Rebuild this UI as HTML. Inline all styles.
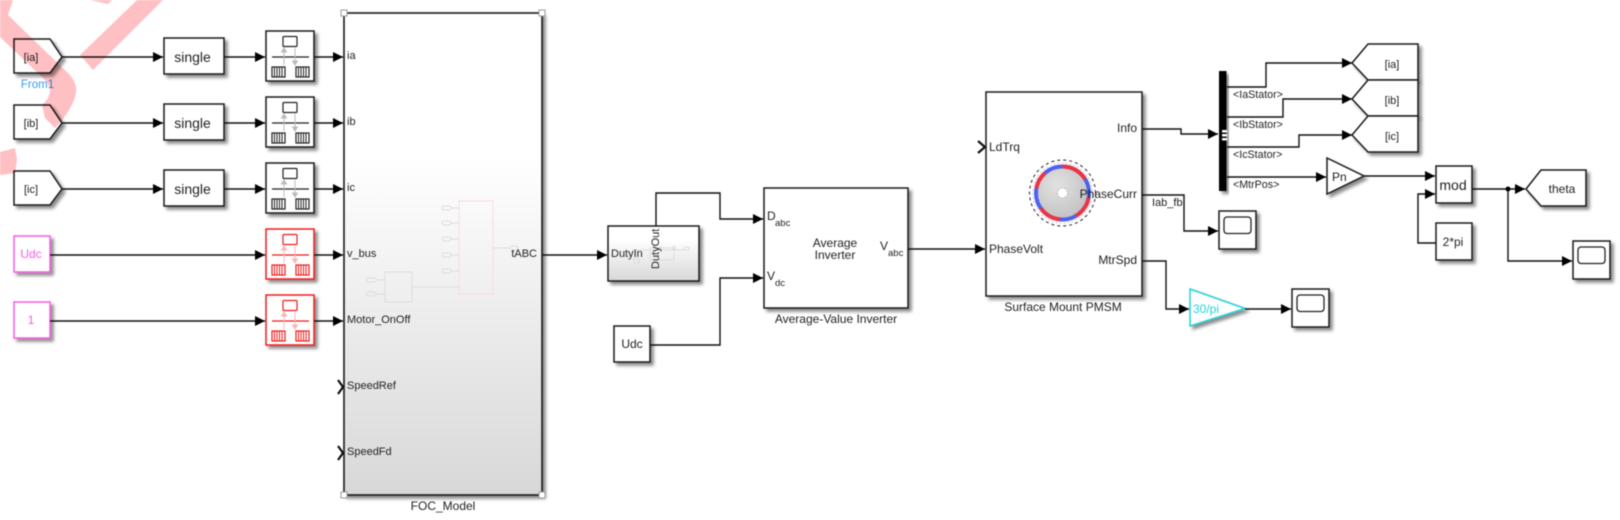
<!DOCTYPE html>
<html><head><meta charset="utf-8"><style>
html,body{margin:0;padding:0;background:#fff;width:1620px;height:520px;overflow:hidden}
svg{display:block;filter:blur(0.4px)}
text{font-family:"Liberation Sans",sans-serif;font-size:11px;fill:#222}
.n{font-size:12px}
.m{text-anchor:middle}
.e{text-anchor:end}
.b{fill:#fff;stroke:#1a1a1a;stroke-width:1.5;filter:url(#sh)}
.l{fill:none;stroke:#111;stroke-width:1.4}
.a{marker-end:url(#ah)}
.h{fill:#fff;stroke:#999;stroke-width:1}
.f{fill:none;stroke:#ddd;stroke-width:1}
</style></head><body>
<svg width="1620" height="520" viewBox="0 0 1620 520" xmlns="http://www.w3.org/2000/svg">
<defs>
<filter id="sh" x="-20%" y="-20%" width="150%" height="150%"><feDropShadow dx="3" dy="3" stdDeviation="1.6" flood-color="#000" flood-opacity=".45"/></filter>
<marker id="ah" markerUnits="userSpaceOnUse" markerWidth="10" markerHeight="11" refX="10" refY="5.5" orient="auto"><path d="M0,0.5 L10,5.5 L0,10.5Z" fill="#000"/></marker>
<linearGradient id="foc" x1="0" y1="0" x2="0" y2="1"><stop offset=".3" stop-color="#fff"/><stop offset="1" stop-color="#d8d8d8"/></linearGradient>
<linearGradient id="duty" x1="0" y1="0" x2="0" y2="1"><stop offset=".25" stop-color="#fff"/><stop offset="1" stop-color="#d8d8d8"/></linearGradient>
<radialGradient id="disc" cx=".4" cy=".35" r=".8"><stop offset="0" stop-color="#e2e2e2"/><stop offset="1" stop-color="#bdbdbd"/></radialGradient>
<g id="rt" fill="none" stroke="currentColor">
<rect x="17" y="5.5" width="14" height="10" rx="1" stroke-width="1.2"/>
<path d="M6,26H43" stroke-width="1.2"/>
<rect x="6" y="36" width="13" height="10" stroke-width="1.2"/>
<rect x="30" y="36" width="13" height="10" stroke-width="1.2"/>
<path d="M8.5,36v10M11,36v10M13.5,36v10M16,36v10M32.5,36v10M35,36v10M37.5,36v10M40,36v10" stroke-width="1"/>
</g>
<g id="scope"><rect class="b" x="0" y="0" width="37" height="38"/><rect x="5" y="6" width="27" height="16.5" rx="3" fill="#fff" stroke="#222" stroke-width="1.3"/></g>
</defs>

<!-- sources -->
<path class="b" d="M14,39H50L62,57L50,73H14Z"/>
<path class="b" d="M14,105H50L62,123L50,139H14Z"/>
<path class="b" d="M14,171H50L62,189L50,205H14Z"/>
<text x="31" y="61" class="m">[ia]</text>
<text x="31" y="127" class="m">[ib]</text>
<text x="31" y="193" class="m">[ic]</text>
<text x="37.5" y="88" class="m" style="fill:#3b9cf5;font-size:11.5px">From1</text>
<rect class="b" x="14" y="236" width="36" height="36" style="stroke:#f75ce0"/>
<text x="31" y="258" class="m n" style="fill:#f75ce0">Udc</text>
<rect class="b" x="14" y="302" width="36" height="36" style="stroke:#f75ce0"/>
<text x="31" y="324" class="m n" style="fill:#f75ce0">1</text>

<!-- single -->
<rect class="b" x="164" y="38" width="60" height="36"/>
<rect class="b" x="164" y="104" width="60" height="36"/>
<rect class="b" x="164" y="170" width="60" height="36"/>
<text x="192.5" y="62" class="m" style="font-size:14px">single</text>
<text x="192.5" y="128" class="m" style="font-size:14px">single</text>
<text x="192.5" y="194" class="m" style="font-size:14px">single</text>

<!-- rate transitions -->
<g>
<rect class="b" x="266" y="31" width="48" height="50"/>
<rect class="b" x="266" y="97" width="48" height="50"/>
<rect class="b" x="266" y="163" width="48" height="50"/>
<rect class="b" x="266" y="229" width="48" height="50" style="stroke:#f01c1c"/>
<rect class="b" x="266" y="295" width="48" height="50" style="stroke:#f01c1c"/>
<use href="#rt" x="266" y="31" color="#222"/><use href="#rt" x="266" y="97" color="#222"/><use href="#rt" x="266" y="163" color="#222"/>
<use href="#rt" x="266" y="229" color="#f01c1c"/><use href="#rt" x="266" y="295" color="#f01c1c"/>
<g fill="#bbb" stroke="#bbb" stroke-width="1">
<path d="M284,65V52M284,48l-2.5,4h5zM295,48V61M295,65l-2.5,-4h5z"/>
<path d="M284,131V118M284,114l-2.5,4h5zM295,114V127M295,131l-2.5,-4h5z"/>
<path d="M284,197V184M284,180l-2.5,4h5zM295,180V193M295,197l-2.5,-4h5z"/>
</g>
<g fill="#f9b6b6" stroke="#f9b6b6" stroke-width="1">
<path d="M284,263V250M284,246l-2.5,4h5zM295,246V259M295,263l-2.5,-4h5z"/>
<path d="M284,329V316M284,312l-2.5,4h5zM295,312V325M295,329l-2.5,-4h5z"/>
</g>
</g>

<!-- FOC -->
<rect x="344" y="13" width="198" height="482" fill="url(#foc)" stroke="#1a1a1a" stroke-width="1.6" filter="url(#sh)"/>
<g>
<rect x="459" y="201" width="34" height="93" fill="none" stroke="#f6dcdc"/>
<rect x="385" y="272" width="27" height="30" fill="none" stroke="#ddd"/>
<path class="f" d="M451,208H459M451,223H459M451,239H459M451,255H459M451,271H459M412,287H459M376,280H385M376,294H385M493,248H510"/>
<g fill="none" stroke="#ddd"><rect x="442" y="206" width="9" height="4" rx="2"/><rect x="442" y="221" width="9" height="4" rx="2"/><rect x="442" y="237" width="9" height="4" rx="2"/><rect x="442" y="253" width="9" height="4" rx="2"/><rect x="442" y="269" width="9" height="4" rx="2"/><rect x="366" y="278" width="10" height="4" rx="2"/><rect x="366" y="292" width="10" height="4" rx="2"/><rect x="510" y="246" width="8" height="4" rx="2"/></g>
</g>
<rect class="h" x="341" y="10" width="6" height="6"/><rect class="h" x="539" y="10" width="6" height="6"/><rect class="h" x="341" y="492" width="6" height="6"/><rect class="h" x="539" y="492" width="6" height="6"/>
<text x="347" y="59">ia</text><text x="347" y="125">ib</text><text x="347" y="191">ic</text>
<text x="347" y="257">v_bus</text><text x="347" y="323">Motor_OnOff</text>
<text x="347" y="389">SpeedRef</text><text x="347" y="455">SpeedFd</text>
<text x="537" y="257" class="e">tABC</text>
<text x="443" y="510" class="m n">FOC_Model</text>
<path d="M338,380L343,387L338,394M338,446L343,453L338,460" fill="none" stroke="#111" stroke-width="2.2"/>

<!-- Duty -->
<rect x="608" y="226" width="91" height="55" fill="url(#duty)" stroke="#1a1a1a" stroke-width="1.5" filter="url(#sh)"/>
<g fill="none" stroke="#ddd"><path d="M632,250H688M650,260H674V248H650Z"/><circle cx="674" cy="248" r="1.5"/><circle cx="660" cy="248" r="1.5"/><rect x="634" y="259" width="5" height="4"/><rect x="684" y="247" width="5" height="3" rx="1.5"/></g>
<text x="611" y="257">DutyIn</text>
<text transform="translate(659,269) rotate(-90)">DutyOut</text>

<!-- Inverter -->
<rect class="b" x="764" y="188" width="144" height="120"/>
<text x="767" y="220" class="n">D</text><text x="775" y="226" style="font-size:9.5px">abc</text>
<text x="767" y="280" class="n">V</text><text x="775" y="286" style="font-size:9.5px">dc</text>
<text x="835" y="247" class="m n">Average</text><text x="835" y="259" class="m n">Inverter</text>
<text x="880" y="250" class="n">V</text><text x="888" y="256" style="font-size:9.5px">abc</text>
<text x="836" y="323" class="m n">Average-Value Inverter</text>

<rect class="b" x="614" y="326" width="36" height="36"/>
<text x="632" y="348" class="m n">Udc</text>

<!-- PMSM -->
<rect class="b" x="986" y="92" width="156" height="204"/>
<circle cx="1062.5" cy="193" r="33" fill="none" stroke="#222" stroke-width="1" stroke-dasharray="3 3"/>
<circle cx="1062.5" cy="193" r="30" fill="none" stroke="#ccc" stroke-width="1" stroke-dasharray="2 2"/>
<circle cx="1062.5" cy="193" r="25" fill="url(#disc)"/>
<g fill="none" stroke-width="4">
<circle cx="1062.5" cy="193" r="26.5" stroke="#4c62f0"/>
<circle cx="1062.5" cy="193" r="26.5" stroke="#ee3344" stroke-dasharray="27 140" transform="rotate(-90 1062.5 193)"/>
<circle cx="1062.5" cy="193" r="26.5" stroke="#ee3344" stroke-dasharray="23 144" transform="rotate(10 1062.5 193)"/>
<circle cx="1062.5" cy="193" r="26.5" stroke="#ee3344" stroke-dasharray="23 144" transform="rotate(95 1062.5 193)"/>
<circle cx="1062.5" cy="193" r="26.5" stroke="#ee3344" stroke-dasharray="18 149" transform="rotate(190 1062.5 193)"/>
</g>
<circle cx="1062.5" cy="193" r="5" fill="#fff" stroke="#bbb" stroke-dasharray="2 1.5"/>
<text x="989" y="151" class="n">LdTrq</text>
<text x="989" y="253" class="n">PhaseVolt</text>
<text x="1137" y="132" class="e n">Info</text>
<text x="1137" y="198" class="e n">PhaseCurr</text>
<text x="1137" y="264" class="e n">MtrSpd</text>
<text x="1063" y="311" class="m n">Surface Mount PMSM</text>
<path d="M978,141L985,147L978,153" fill="none" stroke="#111" stroke-width="2.2"/>

<!-- Bus -->
<rect x="1219" y="71" width="7.5" height="120" fill="#000" filter="url(#sh)"/>
<rect x="1222" y="130" width="5" height="2.5" fill="#fff"/><rect x="1222" y="134" width="5" height="2.5" fill="#fff"/><rect x="1222" y="138" width="5" height="2.5" fill="#fff"/>
<text x="1233" y="98" style="font-size:10.7px">&lt;IaStator&gt;</text>
<text x="1233" y="128" style="font-size:10.7px">&lt;IbStator&gt;</text>
<text x="1233" y="158" style="font-size:10.7px">&lt;IcStator&gt;</text>
<text x="1233" y="188" style="font-size:10.7px">&lt;MtrPos&gt;</text>

<!-- Gotos -->
<path class="b" d="M1352,63L1368,44H1418V80H1368Z"/>
<path class="b" d="M1352,99L1368,80H1418V116H1368Z"/>
<path class="b" d="M1352,135L1368,116H1418V152H1368Z"/>
<text x="1392" y="68" class="m">[ia]</text><text x="1392" y="104" class="m">[ib]</text><text x="1392" y="140" class="m">[ic]</text>

<!-- Pn, mod etc -->
<path class="b" d="M1327,158L1364,176L1327,194Z"/>
<text x="1332" y="181" class="n">Pn</text>
<rect class="b" x="1436" y="166" width="36" height="37"/>
<text x="1453" y="190" class="m" style="font-size:14px">mod</text>
<rect class="b" x="1436" y="223" width="36" height="37"/>
<text x="1453" y="246" class="m n">2*pi</text>
<path class="b" d="M1526,189L1541,170H1586V206H1541Z"/>
<text x="1562" y="193" class="m n">theta</text>
<use href="#scope" x="1219" y="211"/>
<use href="#scope" x="1292" y="289"/>
<use href="#scope" x="1573" y="241"/>
<path class="b" d="M1190,289L1245,308.5L1190,326Z" style="stroke:#22d3d8"/>
<text x="1193" y="313" class="n" style="fill:#22d3d8">30/pi</text>

<!-- wires -->
<path class="l a" d="M62,57H163"/><path class="l a" d="M62,123H163"/><path class="l a" d="M62,189H163"/>
<path class="l a" d="M224,57H265"/><path class="l a" d="M224,123H265"/><path class="l a" d="M224,189H265"/>
<path class="l a" d="M50,255H265"/><path class="l a" d="M50,321H265"/>
<path class="l a" d="M314,57H343"/><path class="l a" d="M314,123H343"/><path class="l a" d="M314,189H343"/><path class="l a" d="M314,255H343"/><path class="l a" d="M314,321H343"/>
<path class="l a" d="M542,255H607"/>
<path class="l a" d="M656,226V193H720V219H763"/>
<path class="l a" d="M650,345H720V278H763"/>
<path class="l a" d="M908,249H985"/>
<path class="l a" d="M1142,129H1181V134H1218"/>
<path class="l a" d="M1142,195H1184V231H1218"/>
<path class="l a" d="M1142,261H1166V309H1189"/>
<path class="l a" d="M1245,309H1291"/>
<path class="l a" d="M1227,87H1266V63H1352"/>
<path class="l a" d="M1227,117H1283V99H1352"/>
<path class="l a" d="M1227,147H1299V135H1352"/>
<path class="l a" d="M1227,177H1326"/>
<path class="l a" d="M1364,176H1435"/>
<path class="l a" d="M1436,243H1418V194H1435"/>
<path class="l a" d="M1472,189H1525"/>
<path class="l a" d="M1508,189V261H1572"/>
<circle cx="1508" cy="189" r="2.5" fill="#000"/>
<text x="1152" y="206">Iab_fb</text>

<!-- watermark -->
<g fill="#ffc0c4" style="mix-blend-mode:multiply">
<path d="M163,0H137L80,55L93,70Z"/>
<path d="M90,0L108,4L112,0Z"/>
<path d="M13,0L8,15L70,75Q77,84 76,92Q74,108 55,128L45,118L42,105Q50,98 50,90Q49,83 43,78L0,37V0Z"/>
<path d="M0,152L15,148L17,160L15,173L0,175Z"/>
</g>
</svg>
</body></html>
